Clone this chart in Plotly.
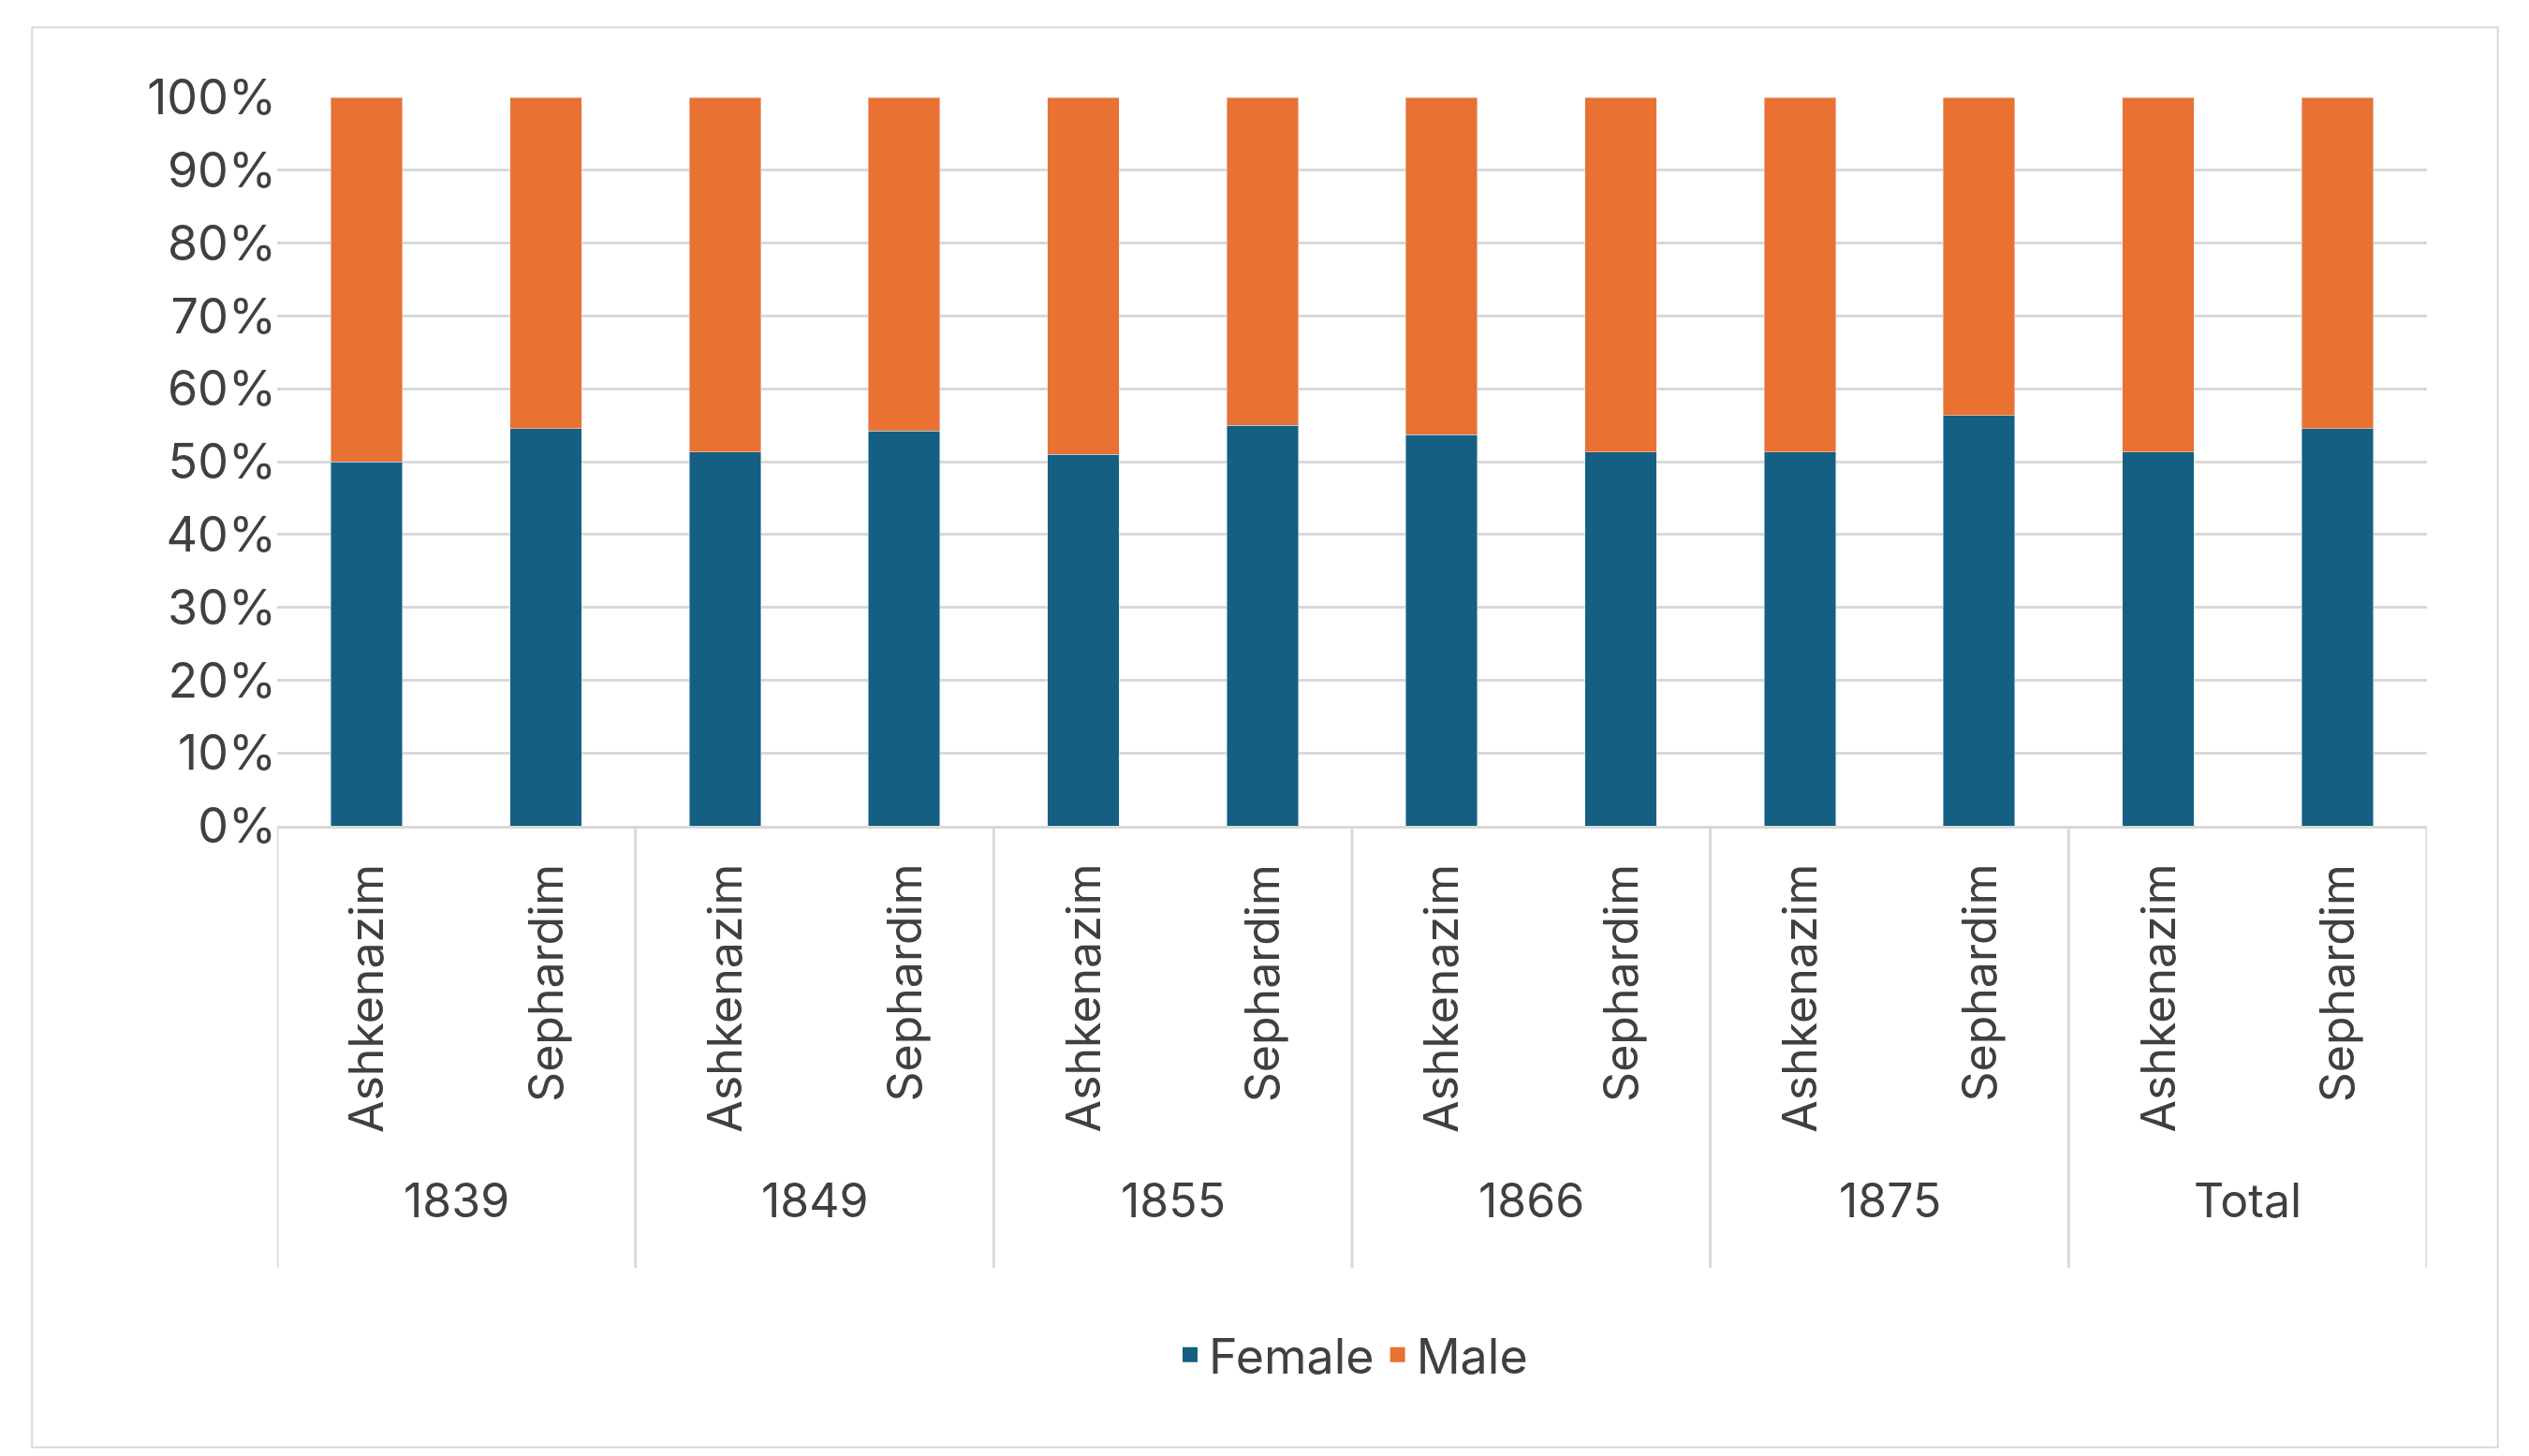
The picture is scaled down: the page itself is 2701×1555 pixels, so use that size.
import plotly.graph_objects as go

years = ["1839", "1849", "1855", "1866", "1875", "Total"]
groups = ["Ashkenazim", "Sephardim"]
female = [50.0, 54.5, 51.3, 54.2, 51.0, 55.0, 53.7, 51.3, 51.3, 56.3, 51.3, 54.5]
male = [100 - f for f in female]

x = list(range(len(female)))
txt = "#404040"
fnt = "Inter, Noto Sans, sans-serif"
c_f, c_m = "#156082", "#E97132"

fig = go.Figure()
fig.add_trace(go.Bar(x=x, y=female, name="Female", marker_color=c_f, width=0.4, showlegend=False))
fig.add_trace(go.Bar(x=x, y=male, name="Male", marker_color=c_m, width=0.4, showlegend=False))
# legend entries with larger square swatches
fig.add_trace(go.Scatter(x=[None], y=[None], mode="markers", name="Female",
                         marker=dict(symbol="square", size=34, color=c_f)))
fig.add_trace(go.Scatter(x=[None], y=[None], mode="markers", name="Male",
                         marker=dict(symbol="square", size=34, color=c_m)))

# group labels, rotated inner labels and dividers
for i in x:
    fig.add_annotation(x=i, y=-0.05, xref="x", yref="paper", text=groups[i % 2],
                       textangle=-90, showarrow=False, yanchor="top",
                       font=dict(size=50, color=txt))
for j, yr in enumerate(years):
    fig.add_annotation(x=2 * j + 0.5, y=-0.555, xref="x", yref="paper", text=yr,
                       showarrow=False, font=dict(size=50, color=txt))
for j in range(len(years) + 1):
    fig.add_shape(type="line", x0=2 * j - 0.5, x1=2 * j - 0.5, y0=0, y1=-0.607,
                  xref="x", yref="paper", line=dict(color="#d9d9d9", width=3))
fig.add_shape(type="rect", x0=-0.114, x1=1.033, y0=-0.853, y1=1.096, xref="paper", yref="paper",
              line=dict(color="#d9d9d9", width=2))

fig.update_layout(
    barmode="stack",
    width=2701, height=1555,
    margin=dict(l=288, r=117, t=96, b=681),
    plot_bgcolor="white", paper_bgcolor="white",
    font=dict(family=fnt, color=txt, size=50),
    legend=dict(orientation="h", x=0.5, xanchor="center", y=-0.726, yanchor="middle",
                traceorder="normal", font=dict(size=52, color=txt)),
    xaxis=dict(range=[-0.5, 11.5], showticklabels=False, showgrid=False, zeroline=False,
               showline=True, linecolor="#d9d9d9", linewidth=3),
    yaxis=dict(range=[0, 100], dtick=10, ticksuffix="%", gridcolor="#d9d9d9", gridwidth=3,
               zeroline=False, tickfont=dict(size=52, color=txt)),
)

fig.write_html("out.html")
